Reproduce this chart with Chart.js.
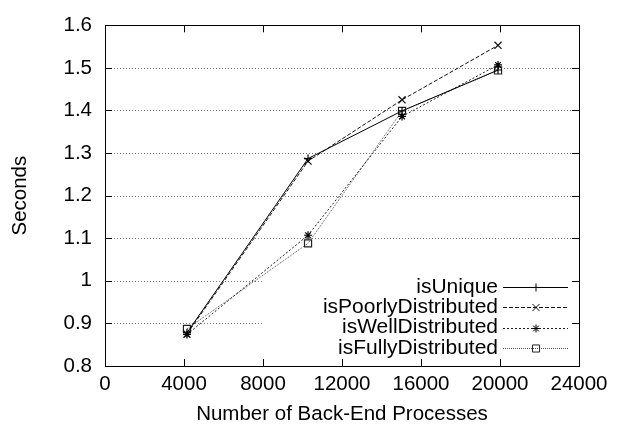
<!DOCTYPE html>
<html lang="en">
<head>
  <meta charset="UTF-8">
  <title>Seconds vs Back-End Processes</title>
  <style>
    body {
      margin: 0;
      background: #ffffff;
    }
    canvas {
      display: block;
    }
  </style>
</head>
<body>
  <canvas id="chart" width="628" height="428"></canvas>

  <script src="https://cdn.jsdelivr.net/npm/chart.js"></script>
  <script>
    // data
    const processes = [4150, 10280, 15040, 19900];
    const isUnique = [0.878, 1.287, 1.399, 1.495];
    const isPoorlyDistributed = [0.875, 1.281, 1.425, 1.553];
    const isWellDistributed = [0.874, 1.107, 1.386, 1.507];
    const isFullyDistributed = [0.887, 1.088, 1.399, 1.494];

    const xTicks = [0, 4000, 8000, 12000, 16000, 20000, 24000];
    const yTicks = [0.8, 0.9, 1.0, 1.1, 1.2, 1.3, 1.4, 1.5, 1.6];
    const yTickLabels = ['0.8', '0.9', '1', '1.1', '1.2', '1.3', '1.4', '1.5', '1.6'];

    const FONT = 'Liberation Sans, Arial, Helvetica, sans-serif';
    const FSIZE = 20.5;

    function pts(ys) {
      return ys.map((y, i) => ({ x: processes[i], y: y }));
    }

    // gnuplot-ish frame, inward ticks, dotted grid and boxed key
    const gnuplotLook = {
      id: 'gnuplotLook',
      beforeDatasetsDraw(chart) {
        const { ctx, chartArea: a, scales: { x, y } } = chart;
        ctx.save();
        // horizontal grid
        ctx.strokeStyle = '#777';
        ctx.lineWidth = 1;
        ctx.setLineDash([1, 2]);
        yTicks.slice(1, -1).forEach(v => {
          const py = Math.round(y.getPixelForValue(v)) + 0.5;
          ctx.beginPath();
          ctx.moveTo(a.left, py);
          ctx.lineTo(a.right, py);
          ctx.stroke();
        });
        ctx.setLineDash([]);
        // key blanks the grid behind it
        ctx.fillStyle = '#fff';
        ctx.fillRect(262, 268, 312, 92);
        // ticks
        ctx.strokeStyle = '#000';
        const t = 7;
        xTicks.forEach(v => {
          const px = Math.round(x.getPixelForValue(v)) + 0.5;
          ctx.beginPath();
          ctx.moveTo(px, a.bottom); ctx.lineTo(px, a.bottom - t);
          ctx.moveTo(px, a.top); ctx.lineTo(px, a.top + t);
          ctx.stroke();
        });
        yTicks.forEach(v => {
          const py = Math.round(y.getPixelForValue(v)) + 0.5;
          ctx.beginPath();
          ctx.moveTo(a.left, py); ctx.lineTo(a.left + t, py);
          ctx.moveTo(a.right, py); ctx.lineTo(a.right - t, py);
          ctx.stroke();
        });
        // frame
        ctx.strokeRect(Math.round(a.left) + 0.5, Math.round(a.top) + 0.5,
          Math.round(a.right - a.left), Math.round(a.bottom - a.top));
        ctx.restore();
      },
      afterDatasetsDraw(chart) {
        const { ctx } = chart;
        ctx.save();
        ctx.font = '21px ' + FONT;
        ctx.textAlign = 'right';
        ctx.textBaseline = 'middle';
        chart.data.datasets.forEach((ds, i) => {
          const ry = 287 + i * 20.3;
          ctx.fillStyle = '#000';
          ctx.fillText(ds.label, 498, ry);
          ctx.strokeStyle = ds.borderColor;
          ctx.lineWidth = 1;
          ctx.setLineDash(ds.borderDash || []);
          ctx.beginPath();
          ctx.moveTo(503, Math.round(ry) + 0.5);
          ctx.lineTo(568, Math.round(ry) + 0.5);
          ctx.stroke();
          ctx.setLineDash([]);
          ctx.fillStyle = 'rgba(0,0,0,0)';
          ctx.strokeStyle = ds.pointBorderColor;
          Chart.helpers.drawPoint(ctx, {
            pointStyle: ds.pointStyle,
            radius: ds.pointRadius,
            borderWidth: 1,
            rotation: 0
          }, 536, Math.round(ry) + 0.5);
        });
        ctx.restore();
      }
    };

    const common = {
      borderWidth: 1,
      pointBorderWidth: 1.2,
      backgroundColor: 'rgba(0,0,0,0)',
      pointBackgroundColor: 'rgba(0,0,0,0)',
      fill: false,
      tension: 0
    };

    new Chart(document.getElementById('chart'), {
      type: 'line',
      data: {
        datasets: [
          Object.assign({}, common, {
            label: 'isUnique', data: pts(isUnique),
            borderColor: '#000', pointBorderColor: '#000',
            pointStyle: 'cross', pointRadius: 4
          }),
          Object.assign({}, common, {
            label: 'isPoorlyDistributed', data: pts(isPoorlyDistributed),
            borderColor: '#111', pointBorderColor: '#111',
            borderDash: [4, 2], pointStyle: 'crossRot', pointRadius: 5
          }),
          Object.assign({}, common, {
            label: 'isWellDistributed', data: pts(isWellDistributed),
            borderColor: '#222', pointBorderColor: '#000',
            borderDash: [2, 2], pointStyle: 'star', pointRadius: 4
          }),
          Object.assign({}, common, {
            label: 'isFullyDistributed', data: pts(isFullyDistributed),
            borderColor: '#555', pointBorderColor: '#222',
            borderDash: [1, 1], pointStyle: 'rect', pointRadius: 5
          })
        ]
      },
      options: {
        responsive: false,
        animation: false,
        layout: { padding: { top: 17, right: 49, left: 0, bottom: 0 } },
        plugins: {
          legend: { display: false },
          tooltip: { enabled: false }
        },
        scales: {
          x: {
            type: 'linear',
            min: 0,
            max: 24000,
            afterBuildTicks: s => { s.ticks = xTicks.map(v => ({ value: v })); },
            afterFit: s => { s.height = 62; },
            grid: { display: false, drawTicks: false },
            border: { display: false },
            ticks: {
              color: '#000',
              font: { family: FONT, size: FSIZE },
              padding: 6,
              maxRotation: 0,
              callback: v => String(v)
            },
            title: {
              display: true,
              text: 'Number of Back-End Processes',
              color: '#000',
              font: { family: FONT, size: FSIZE },
              padding: { top: 0, bottom: 1 }
            }
          },
          y: {
            min: 0.8,
            max: 1.6,
            afterBuildTicks: s => { s.ticks = yTicks.map(v => ({ value: v })); },
            afterFit: s => { s.width = 105; },
            grid: { display: false, drawTicks: false },
            border: { display: false },
            ticks: {
              color: '#000',
              font: { family: FONT, size: FSIZE },
              padding: 13,
              callback: (v, i) => yTickLabels[i]
            },
            title: {
              display: true,
              text: 'Seconds',
              color: '#000',
              font: { family: FONT, size: FSIZE },
              padding: { top: 8, bottom: 0 }
            }
          }
        }
      },
      plugins: [gnuplotLook]
    });
  </script>
</body>
</html>
